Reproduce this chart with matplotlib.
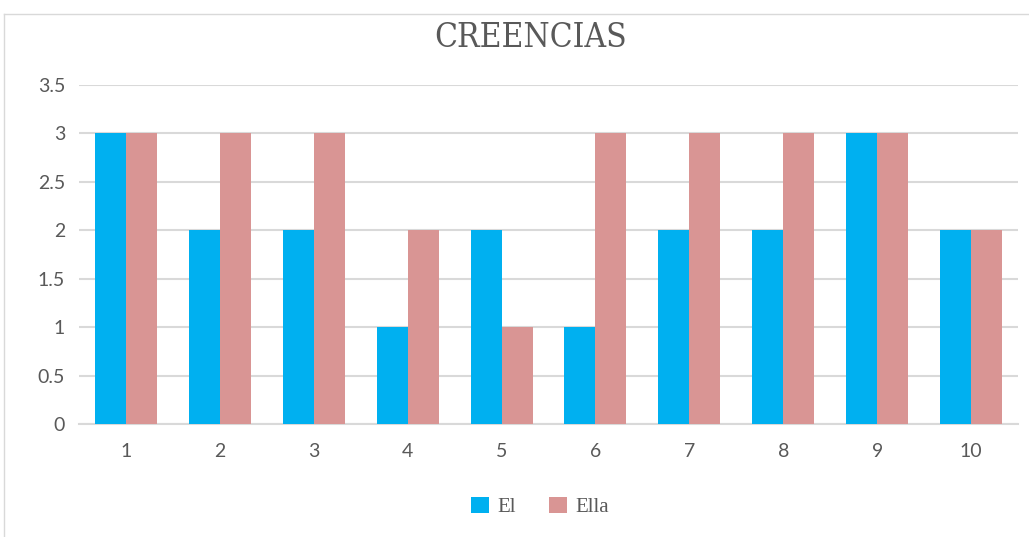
import matplotlib
matplotlib.use("Agg")
import matplotlib.pyplot as plt
from matplotlib.lines import Line2D
import numpy as np

categories = ["1", "2", "3", "4", "5", "6", "7", "8", "9", "10"]
el = [3, 2, 2, 1, 2, 1, 2, 2, 3, 2]
ella = [3, 3, 3, 2, 1, 3, 3, 3, 3, 2]
yticks = [0, 0.5, 1, 1.5, 2, 2.5, 3, 3.5]

fig = plt.figure(figsize=(10.29, 5.37), dpi=100)
ax = fig.add_axes([79/1029, 113/537, 939/1029, 339/537])

x = np.arange(len(categories))
w = 0.33
ax.bar(x - w/2, el, width=w, color="#00B0F0", label="El", zorder=3)
ax.bar(x + w/2, ella, width=w, color="#D99594", label="Ella", zorder=3)

ax.set_xlim(-0.5, len(categories) - 0.5)
ax.set_ylim(0, 3.5)
ax.set_yticks(yticks)
ax.set_yticklabels([f"{t:g}" for t in yticks])
ax.set_xticks(x)
ax.set_xticklabels(categories)
ax.grid(axis="y", color="#d9d9d9", linewidth=1.5, zorder=0)
for s in ["top", "right", "left"]:
    ax.spines[s].set_visible(False)
ax.spines["bottom"].set_color("#d9d9d9")
ax.spines["bottom"].set_linewidth(1.5)
ax.tick_params(axis="both", length=0, labelsize=14, labelcolor="#595959")
ax.tick_params(axis="y", pad=10)
ax.tick_params(axis="x", pad=14)
for lab in ax.get_xticklabels() + ax.get_yticklabels():
    lab.set_fontfamily(["Lato", "DejaVu Sans"])

fig.text(531/1029, 1 - 38/537, "CREENCIAS", ha="center", va="center",
         fontsize=24, color="#595959", family=["DejaVu Serif"], fontstretch="condensed")

leg = fig.legend(loc="center", bbox_to_anchor=(540/1029, 1 - 507/537), ncol=2,
                 frameon=False, prop={"family": ["Liberation Serif"], "size": 15},
                 handlelength=0.85, handleheight=0.85, columnspacing=1.6, handletextpad=0.4)
for t in leg.get_texts():
    t.set_color("#595959")

fig.add_artist(Line2D([4/1029, 4/1029], [0, 1 - 14/537], color="#d9d9d9", lw=1, transform=fig.transFigure))
fig.add_artist(Line2D([4/1029, 1], [1 - 14/537, 1 - 14/537], color="#d9d9d9", lw=1, transform=fig.transFigure))

fig.savefig("out.png", dpi=100)
